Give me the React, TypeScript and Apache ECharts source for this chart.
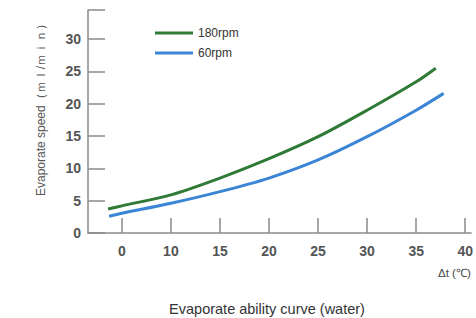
import React, { useEffect, useRef } from "react";
import * as echarts from "echarts";

// x positions are on the drawn axis scale (the tick labelled "0" sits at 5)
const green180X = [3.6, 5, 10, 15, 20, 25, 30, 35, 37.0];
const green180Y = [3.7, 4.2, 5.9, 8.5, 11.5, 14.9, 19.0, 23.4, 25.5];
const blue60X = [3.7, 5, 10, 15, 20, 25, 30, 35, 37.8];
const blue60Y = [2.6, 3.05, 4.6, 6.4, 8.5, 11.3, 14.9, 19.0, 21.6];

const xTickValues = [5, 10, 15, 20, 25, 30, 35, 40];
const xTickLabels = ["0", "10", "15", "20", "25", "30", "35", "40"];

const seriesNames = ["180rpm", "60rpm"];
const yAxisName = "Evaporate speed（ｍｌ/ｍｉｎ）";
const xAxisName = "Δt (℃)";
const chartTitle = "Evaporate ability curve (water)";

export default function App() {
  const ref = useRef<HTMLDivElement>(null);
  useEffect(() => {
    document.body.style.margin = "0";
    const chart = echarts.init(ref.current!, null, { renderer: "svg" });
    const font = "'Liberation Sans', Arial, sans-serif";
    const axisColor = "#8a8a8a";
    chart.setOption({
      animation: false,
      backgroundColor: "#ffffff",
      title: {
        text: chartTitle,
        left: 267,
        textAlign: "center",
        top: 301,
        padding: 0,
        textStyle: { fontSize: 14.5, fontWeight: "normal", color: "#333", fontFamily: font },
      },
      legend: {
        data: seriesNames,
        orient: "vertical",
        left: 155,
        top: 26,
        padding: 0,
        itemWidth: 38,
        itemHeight: 3,
        itemGap: 6,
        icon: "rect",
        textStyle: { fontSize: 12, color: "#333", fontFamily: font, lineHeight: 14 },
      },
      grid: { left: 88, right: 0, top: 10, bottom: 85 },
      xAxis: {
        type: "value",
        min: 1.55,
        max: 40.6,
        splitLine: { show: false },
        axisLine: { lineStyle: { color: axisColor, width: 1.5 } },
        axisTick: {
          inside: true,
          length: 15,
          customValues: xTickValues,
          lineStyle: { color: axisColor, width: 1.5 },
        },
        axisLabel: {
          customValues: xTickValues,
          margin: 11,
          fontSize: 14,
          fontWeight: "bold",
          color: "#555",
          fontFamily: font,
          formatter: (v: number) => {
            const i = xTickValues.indexOf(v);
            return i >= 0 ? xTickLabels[i] : "";
          },
        },
      },
      yAxis: {
        type: "value",
        min: 0,
        max: 34.5,
        interval: 5,
        splitLine: { show: false },
        axisLine: { show: true, lineStyle: { color: axisColor, width: 1.5 } },
        axisTick: { show: true, inside: true, length: 17, lineStyle: { color: axisColor, width: 1.5 } },
        axisLabel: {
          margin: 7,
          fontSize: 14,
          fontWeight: "bold",
          color: "#555",
          fontFamily: font,
          formatter: (v: number) => (v % 5 === 0 && v <= 30 ? String(v) : ""),
        },
      },
      graphic: [
        {
          type: "text",
          x: 41,
          y: 107,
          rotation: Math.PI / 2,
          style: {
            text: yAxisName,
            fontSize: 12,
            fill: "#555",
            fontFamily: font,
            align: "center",
            verticalAlign: "middle",
          },
        },
        {
          type: "text",
          x: 438,
          y: 273,
          style: {
            text: xAxisName,
            fontSize: 11.5,
            fill: "#444",
            fontFamily: font,
            align: "left",
            verticalAlign: "middle",
          },
        },
      ],
      series: [
        {
          name: seriesNames[0],
          type: "line",
          smooth: 0.3,
          showSymbol: false,
          color: "#2e7a36",
          lineStyle: { width: 3, color: "#2e7a36" },
          data: green180X.map((x, i) => [x, green180Y[i]]),
        },
        {
          name: seriesNames[1],
          type: "line",
          smooth: 0.3,
          showSymbol: false,
          color: "#3a85d5",
          lineStyle: { width: 3, color: "#3a85d5" },
          data: blue60X.map((x, i) => [x, blue60Y[i]]),
        },
      ],
    });
    return () => chart.dispose();
  }, []);
  return <div ref={ref} style={{ width: 476, height: 318 }} />;
}
